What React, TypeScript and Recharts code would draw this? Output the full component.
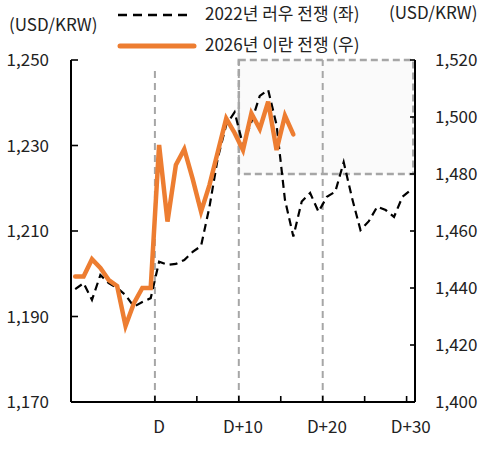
import React from 'react';
import { LineChart, Line, XAxis, YAxis, ReferenceLine, ReferenceArea } from 'recharts';

// day offsets D-10 ... D+30
const days = [
  -10, -9, -8, -7, -6, -5, -4, -3, -2, -1, 0, 1, 2, 3, 4, 5, 6, 7, 8, 9, 10,
  11, 12, 13, 14, 15, 16, 17, 18, 19, 20, 21, 22, 23, 24, 25, 26, 27, 28, 29, 30,
];

// 2022 Russia-Ukraine war (left axis)
const russia2022 = [
  1196.4, 1197.8, 1193.9, 1199.7, 1197.8, 1196.7, 1195.0, 1192.3, 1193.4, 1194.3,
  1202.8, 1202.1, 1202.3, 1203.2, 1205.1, 1206.5, 1215.6, 1227.1, 1234.8, 1237.8,
  1230.1, 1235.5, 1241.6, 1243.0, 1234.8, 1217.3, 1208.7, 1216.9, 1218.9, 1214.5,
  1218.0, 1219.2, 1226.1, 1217.7, 1210.2, 1212.3, 1215.7, 1214.9, 1213.3, 1218.0,
  1219.6,
];

// 2026 Iran war (right axis), D-10 ... D+16
const iran2026 = [
  1444.0, 1444.0, 1450.1, 1447.0, 1442.8, 1440.7, 1426.7, 1434.7, 1440.0, 1440.0,
  1490.2, 1463.3, 1483.2, 1488.7, 1478.3, 1466.8, 1476.1, 1487.8, 1499.5, 1494.4,
  1488.4, 1501.3, 1495.8, 1505.4, 1488.4, 1500.5, 1493.9,
];

const leftTicks = [1170, 1190, 1210, 1230, 1250];
const rightTicks = [1400, 1420, 1440, 1460, 1480, 1500, 1520];
const xTicks = [-0.5, 4.5, 9.5, 14.5, 19.5, 24.5, 29.5];
const xTickLabels = ['D', '', 'D+10', '', 'D+20', '', 'D+30'];
const markerLines = [-0.5, 9.5, 19.5];

const seriesNames = ['2022년 러우 전쟁 (좌)', '2026년 이란 전쟁 (우)'];
const unitLabel = '(USD/KRW)';

const data = days.map((d, i) => ({
  day: d,
  russia: russia2022[i],
  iran: i < iran2026.length ? iran2026[i] : null,
}));

const FONT = '"Noto Sans CJK KR", "Noto Sans", sans-serif';
const TEXT = '#222';
const GRAY = '#A6A6A6';
const ORANGE = '#ED7D31';

const fmt = (v: number) => v.toLocaleString('en-US');

const LeftTick = (props: any) => {
  const { x, y, payload } = props;
  return (
    <g>
      <line x1={x} x2={x + 7} y1={y} y2={y} stroke="#000" strokeWidth={1.6} />
      <text x={x - 22} y={y} dy={6} textAnchor="end" fontSize={17} fontFamily={FONT} fill={TEXT}>
        {fmt(payload.value)}
      </text>
    </g>
  );
};

const RightTick = (props: any) => {
  const { x, y, payload } = props;
  return (
    <g>
      <line x1={x} x2={x - 5} y1={y} y2={y} stroke="#000" strokeWidth={1.6} />
      <text x={x + 20} y={y} dy={6} textAnchor="start" fontSize={17} fontFamily={FONT} fill={TEXT}>
        {fmt(payload.value)}
      </text>
    </g>
  );
};

const BottomTick = (props: any) => {
  const { x, y, index } = props;
  return (
    <g>
      <line x1={x} x2={x} y1={y} y2={y - 6} stroke="#000" strokeWidth={1.6} />
      <text x={x + 4.2} y={y + 31} textAnchor="middle" fontSize={17} fontFamily={FONT} fill={TEXT}>
        {xTickLabels[index]}
      </text>
    </g>
  );
};

export default function App() {
  const textStyle: React.CSSProperties = {
    position: 'absolute',
    fontFamily: FONT,
    fontSize: 17,
    lineHeight: '20px',
    color: TEXT,
    whiteSpace: 'nowrap',
  };
  return (
    <div style={{ position: 'absolute', left: 0, top: 0, width: 483, height: 457, background: '#fff' }}>
      <LineChart width={483} height={457} data={data} margin={{ top: 60, right: 8, bottom: 25, left: 11 }}>
        <XAxis
          dataKey="day"
          type="number"
          domain={[-10.5, 30.5]}
          ticks={xTicks}
          interval={0}
          tick={<BottomTick />}
          tickLine={false}
          tickSize={0}
          tickMargin={0}
          axisLine={{ stroke: '#000', strokeWidth: 2 }}
          height={30}
          allowDataOverflow
        />
        <YAxis
          yAxisId="left"
          domain={[1170, 1250]}
          ticks={leftTicks}
          interval={0}
          tick={<LeftTick />}
          tickLine={false}
          tickSize={0}
          tickMargin={0}
          axisLine={{ stroke: '#000', strokeWidth: 2 }}
          width={60}
          allowDataOverflow
        />
        <YAxis
          yAxisId="right"
          orientation="right"
          domain={[1400, 1520]}
          ticks={rightTicks}
          interval={0}
          tick={<RightTick />}
          tickLine={false}
          tickSize={0}
          tickMargin={0}
          axisLine={{ stroke: '#000', strokeWidth: 2 }}
          width={60}
          allowDataOverflow
        />
        <ReferenceArea
          yAxisId="right"
          x1={9.5}
          x2={30.3}
          y1={1480}
          y2={1520}
          fill="#FAFAFA"
          fillOpacity={1}
          stroke={GRAY}
          strokeWidth={2.5}
          strokeDasharray="7 4"
        />
        {markerLines.map((m, i) => (
          <ReferenceLine
            key={m}
            yAxisId="left"
            segment={[{ x: m, y: 1170 }, { x: m, y: i === 0 ? 1247.7 : 1250 }]}
            stroke={GRAY}
            strokeWidth={2}
            strokeDasharray="7 5"
          />
        ))}
        <Line
          yAxisId="left"
          type="linear"
          dataKey="russia"
          stroke="#000"
          strokeWidth={2.2}
          strokeDasharray="8 5"
          dot={false}
          activeDot={false}
          isAnimationActive={false}
        />
        <Line
          yAxisId="right"
          type="linear"
          dataKey="iran"
          stroke={ORANGE}
          strokeWidth={4.5}
          strokeLinecap="round"
          dot={false}
          activeDot={false}
          isAnimationActive={false}
        />
      </LineChart>

      <div style={{ ...textStyle, left: 9, top: 14 }}>{unitLabel}</div>
      <div style={{ ...textStyle, left: 389, top: 2 }}>{unitLabel}</div>

      <svg style={{ position: 'absolute', left: 116, top: 8 }} width={80} height={14}>
        <line x1={2} x2={74} y1={7} y2={7} stroke="#000" strokeWidth={2.5} strokeDasharray="9 6" />
      </svg>
      <div style={{ ...textStyle, left: 205, top: 3 }}>{seriesNames[0]}</div>

      <svg style={{ position: 'absolute', left: 116, top: 39 }} width={84} height={14}>
        <line x1={4} x2={78} y1={7} y2={7} stroke={ORANGE} strokeWidth={5} strokeLinecap="round" />
      </svg>
      <div style={{ ...textStyle, left: 205, top: 34 }}>{seriesNames[1]}</div>
    </div>
  );
}
